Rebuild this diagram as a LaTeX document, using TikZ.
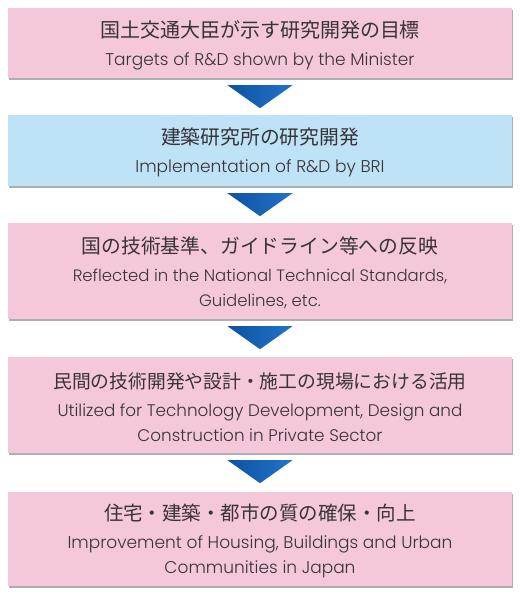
\documentclass[tikz,border=0pt]{standalone}
\usepackage{fontspec}
\newfontfamily\enfont{Poppins}[UprightFont={* Light}]
\newfontfamily\jpfont{Noto Sans CJK JP}
\usetikzlibrary{calc,shadows}
\definecolor{pinkc}{HTML}{F4C7DB}
\definecolor{bluec}{HTML}{BEE2F6}
\definecolor{txt}{HTML}{383338}
\definecolor{arrowdark}{HTML}{0E52A2}
\definecolor{arrowlight}{HTML}{2273C6}
\newcommand{\jpl}[2][19.8]{\rule{0pt}{21pt}{\jpfont\fontsize{#1}{25}\selectfont #2}}
\tikzset{ensize/.style={font=\enfont\fontsize{#1}{25}\selectfont}}
\begin{document}
\begin{tikzpicture}[x=1pt,y=1pt,
  box/.style={rectangle, minimum width=504pt, inner sep=0pt, align=center, text=txt,
    ensize=17,
    drop shadow={shadow xshift=1.2pt, shadow yshift=-1.6pt, opacity=0.45, fill=black!70}},
  pinkbox/.style={box, fill=pinkc},
  bluebox/.style={box, fill=bluec},
  tri/.style={left color=arrowdark, right color=arrowlight}]
\useasboundingbox (0,0) rectangle (521,595);
\node[pinkbox, minimum height=70pt] (b1) at (260,552)
  {\jpl[20]{国土交通大臣が示す研究開発の目標}\\[3pt]Targets of R\&D shown by the Minister};
\node[bluebox, minimum height=71pt] (b2) at (260,444.5)
  {\jpl{建築研究所の研究開発}\\[3pt]Implementation of R\&D by BRI};
\node[pinkbox, minimum height=96pt, ensize=16.5] (b3) at (260,324)
  {\jpl{国の技術基準、ガイドライン等への反映}\\[3pt]Reflected in the National Technical Standards,\\Guidelines, etc.};
\node[pinkbox, minimum height=96pt, ensize=16.8] (b4) at (260,190)
  {\jpl[18.8]{民間の技術開発や設計・施工の現場における活用}\\[3pt]Utilized for Technology Development, Design and\\Construction in Private Sector};
\node[pinkbox, minimum height=94pt] (b5) at (260,56)
  {\jpl[19.5]{住宅・建築・都市の質の確保・向上}\\[3pt]Improvement of Housing, Buildings and Urban\\Communities in Japan};
\foreach \a in {b1,b2,b3,b4}{
  \shade[tri] ($(\a.south)+(-32.5,-7)$) -- ($(\a.south)+(32.5,-7)$) -- ($(\a.south)+(0,-30)$) -- cycle;
}
\end{tikzpicture}
\end{document}
